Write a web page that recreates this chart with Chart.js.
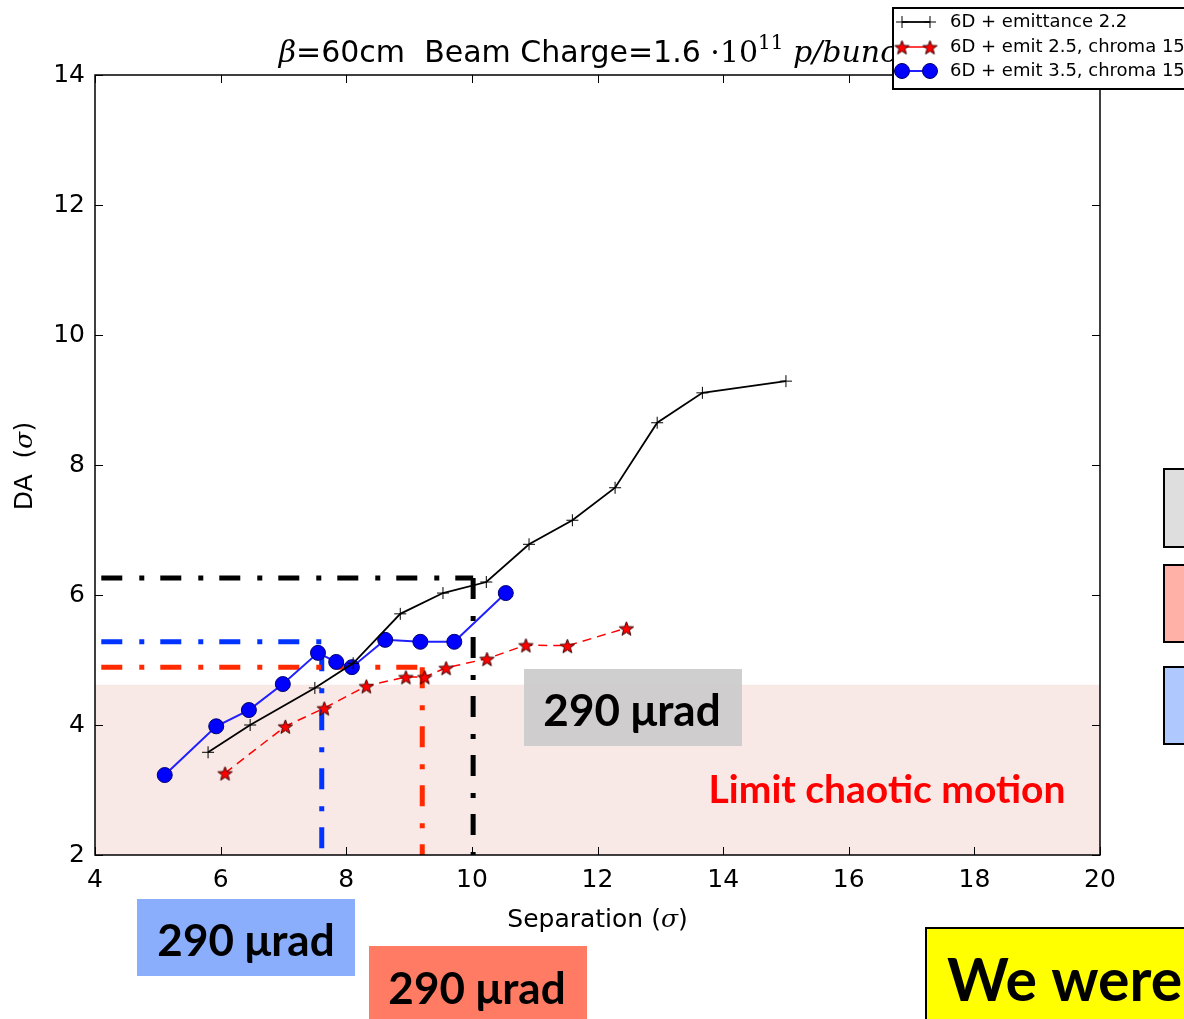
<!DOCTYPE html>
<html>
<head>
<meta charset="utf-8">
<script src="https://cdn.jsdelivr.net/npm/chart.js@4.4.1/dist/chart.umd.min.js"></script>
<style>
  html, body { margin: 0; padding: 0; background: #fff; overflow: hidden; }
</style>
</head>
<body>
<canvas id="da" width="1184" height="1019"></canvas>
<script>
// scan results: DA vs beam separation, one run per emittance/chroma setting
const sepEmit22 = [5.80, 6.47, 7.50, 8.11, 8.86, 9.54, 10.23, 10.91, 11.60, 12.28, 12.95, 13.67, 15.00];
const daEmit22  = [3.58, 4.00, 4.57, 4.95, 5.71, 6.03, 6.20, 6.78, 7.15, 7.65, 8.65, 9.11, 9.29];

const sepEmit25 = [6.07, 7.03, 7.65, 8.32, 8.95, 9.25, 9.59, 10.24, 10.86, 11.52, 12.46];
const daEmit25  = [3.26, 3.98, 4.26, 4.60, 4.74, 4.74, 4.88, 5.02, 5.23, 5.22, 5.49];

const sepEmit35 = [5.11, 5.93, 6.45, 6.99, 7.55, 7.84, 8.09, 8.62, 9.18, 9.72, 10.54];
const daEmit35  = [3.23, 3.98, 4.23, 4.63, 5.11, 4.97, 4.89, 5.31, 5.28, 5.28, 6.03];

const seriesLabels = ["6D + emittance 2.2", "6D + emit 2.5, chroma 15", "6D + emit 3.5, chroma 15"];

// working points picked for each case (black, red, blue)
const guideStart = 4.1;
const guideSep = [10.02, 9.21, 7.61];
const guideDA  = [6.26, 4.89, 5.28];
const guideDrop = [6.26, 4.89, 5.15];

// DA below this is dominated by chaotic motion
const chaoticLimit = 4.62;

const xTicks = [4, 6, 8, 10, 12, 14, 16, 18, 20];
const yTicks = [2, 4, 6, 8, 10, 12, 14];

const toXY = (xs, ys) => xs.map((x, i) => ({ x, y: ys[i] }));

// filled star marker, the built-in "star" is only an outline
function makeStar(r) {
  const c = document.createElement("canvas");
  const s = Math.ceil(r * 2 + 4);
  c.width = s; c.height = s;
  const g = c.getContext("2d");
  g.beginPath();
  for (let i = 0; i < 10; i++) {
    const rr = i % 2 === 0 ? r : r * 0.42;
    const a = -Math.PI / 2 + i * Math.PI / 5;
    g.lineTo(s / 2 + rr * Math.cos(a), s / 2 + 1 + rr * Math.sin(a));
  }
  g.closePath();
  g.fillStyle = "#ff0000";
  g.fill();
  g.lineWidth = 1;
  g.strokeStyle = "#3a0000";
  g.stroke();
  return c;
}
const starImg = makeStar(7.5);

const guideColors = ["#000000", "#ff2a00", "#0033ff"];
const guideSets = [];
guideSep.forEach((s, i) => {
  const style = {
    borderColor: guideColors[i],
    borderWidth: 5,
    borderDash: [21, 17, 5, 16],
    pointRadius: 0,
    fill: false,
    order: 2
  };
  guideSets.push({ ...style, data: [{ x: guideStart, y: guideDA[i] }, { x: s, y: guideDA[i] }] });
  guideSets.push({ ...style, data: [{ x: s, y: guideDrop[i] }, { x: s, y: 2 }] });
});

// draws text made of several runs with different fonts
function drawRuns(ctx, parts, x, y, align) {
  let total = 0;
  parts.forEach(p => { ctx.font = p.f; p.w = ctx.measureText(p.t).width; total += p.w; });
  let cx = align === "center" ? x - total / 2 : x;
  ctx.textAlign = "left";
  parts.forEach(p => {
    ctx.font = p.f;
    ctx.fillText(p.t, cx, y + (p.dy || 0));
    cx += p.w;
  });
}

function box(ctx, x, y, w, h, fill, stroke) {
  ctx.fillStyle = fill;
  ctx.fillRect(x, y, w, h);
  if (stroke) {
    ctx.lineWidth = 2;
    ctx.strokeStyle = stroke;
    ctx.strokeRect(x, y, w, h);
  }
}

const frame = {
  id: "frame",
  afterDraw(chart) {
    const { ctx, chartArea: a, scales } = chart;
    const xs = scales.x, ys = scales.y;
    ctx.save();

    // box around the plot and inward ticks on every side
    ctx.strokeStyle = "#000";
    ctx.lineWidth = 1.5;
    ctx.strokeRect(a.left, a.top, a.right - a.left, a.bottom - a.top);
    ctx.lineWidth = 1;
    ctx.beginPath();
    xTicks.forEach(v => {
      const px = Math.round(xs.getPixelForValue(v)) + 0.5;
      ctx.moveTo(px, a.bottom); ctx.lineTo(px, a.bottom - 8);
      ctx.moveTo(px, a.top); ctx.lineTo(px, a.top + 8);
    });
    yTicks.forEach(v => {
      const py = Math.round(ys.getPixelForValue(v)) + 0.5;
      ctx.moveTo(a.left, py); ctx.lineTo(a.left + 8, py);
      ctx.moveTo(a.right, py); ctx.lineTo(a.right - 8, py);
    });
    ctx.stroke();

    // axis titles
    ctx.fillStyle = "#000";
    ctx.textBaseline = "middle";
    drawRuns(ctx, [
      { t: "Separation (", f: "25px 'DejaVu Sans'" },
      { t: "σ", f: "italic 25px 'DejaVu Serif'" },
      { t: ")", f: "25px 'DejaVu Sans'" }
    ], (a.left + a.right) / 2, 920, "center");
    ctx.save();
    ctx.translate(25, 466);
    ctx.rotate(-Math.PI / 2);
    drawRuns(ctx, [
      { t: "DA  (", f: "25px 'DejaVu Sans'" },
      { t: "σ", f: "italic 25px 'DejaVu Serif'" },
      { t: ")", f: "25px 'DejaVu Sans'" }
    ], 0, 0, "center");
    ctx.restore();

    // title
    ctx.textBaseline = "alphabetic";
    drawRuns(ctx, [
      { t: "β", f: "italic 30px 'DejaVu Serif'" },
      { t: "=60cm  Beam Charge=1.6 ", f: "30px 'DejaVu Sans'" },
      { t: "·10", f: "30px 'DejaVu Serif'" },
      { t: "11", f: "20px 'DejaVu Serif'", dy: -13 },
      { t: " p/bunch", f: "italic 30px 'DejaVu Serif'" }
    ], (a.left + a.right) / 2, 62, "center");

    // slide call-outs
    ctx.textBaseline = "middle";
    box(ctx, 524, 669, 218, 77, "rgba(202,202,202,0.9)");
    box(ctx, 137, 899, 218, 77, "rgb(138,174,252)");
    box(ctx, 369, 946, 218, 80, "rgb(255,123,99)");
    ctx.fillStyle = "#000";
    const mu = [{ t: "290 μrad", f: "bold 44px Lato" }];
    drawRuns(ctx, mu, 632, 712, "center");
    drawRuns(ctx, mu, 246, 942, "center");
    drawRuns(ctx, mu, 477, 990, "center");

    ctx.fillStyle = "#ff0000";
    drawRuns(ctx, [{ t: "Limit chaotic motion", f: "bold 39px Lato" }], 887, 790, "center");

    box(ctx, 1164, 469, 40, 78, "#dedede", "#000");
    box(ctx, 1164, 565, 40, 77, "#ffb0a7", "#000");
    box(ctx, 1164, 667, 40, 77, "#afc8fd", "#000");

    box(ctx, 926, 928, 280, 110, "#ffff00", "#000");
    ctx.fillStyle = "#000";
    ctx.textBaseline = "alphabetic";
    drawRuns(ctx, [{ t: "We were", f: "bold 59px Lato" }], 947, 1001, "left");

    // legend
    box(ctx, 893, 8, 320, 81, "#fff", "#000");
    const rows = [22, 47, 71];
    const sets = chart.data.datasets;
    rows.forEach((ry, i) => {
      const d = sets[i];
      ctx.strokeStyle = d.borderColor;
      ctx.lineWidth = d.borderWidth;
      ctx.setLineDash([]);
      ctx.beginPath(); ctx.moveTo(902, ry); ctx.lineTo(930, ry); ctx.stroke();
      [902, 930].forEach(mx => {
        if (i === 0) {
          ctx.lineWidth = 1;
          ctx.beginPath();
          ctx.moveTo(mx - 6, ry); ctx.lineTo(mx + 6, ry);
          ctx.moveTo(mx, ry - 6); ctx.lineTo(mx, ry + 6);
          ctx.stroke();
        } else if (i === 1) {
          ctx.drawImage(starImg, mx - starImg.width / 2, ry - starImg.height / 2);
        } else {
          ctx.beginPath();
          ctx.arc(mx, ry, 7.5, 0, Math.PI * 2);
          ctx.fillStyle = "#0000ff"; ctx.fill();
          ctx.lineWidth = 1; ctx.strokeStyle = "#00006a"; ctx.stroke();
        }
      });
      ctx.fillStyle = "#000";
      ctx.textBaseline = "middle";
      drawRuns(ctx, [{ t: seriesLabels[i], f: "18px 'DejaVu Sans'" }], 950, ry, "left");
    });
    ctx.restore();
  }
};

new Chart(document.getElementById("da"), {
  type: "line",
  data: {
    datasets: [
      {
        label: seriesLabels[0],
        data: toXY(sepEmit22, daEmit22),
        borderColor: "#000000",
        borderWidth: 1.8,
        pointStyle: "cross",
        pointRadius: 6,
        pointBorderWidth: 1,
        pointBorderColor: "#000",
        fill: false,
        order: 0
      },
      {
        label: seriesLabels[1],
        data: toXY(sepEmit25, daEmit25),
        borderColor: "#ff0000",
        borderWidth: 1.5,
        borderDash: [9, 6],
        pointStyle: starImg,
        fill: false,
        order: 0
      },
      {
        label: seriesLabels[2],
        data: toXY(sepEmit35, daEmit35),
        borderColor: "#1f1fff",
        borderWidth: 2,
        pointRadius: 7.5,
        pointBackgroundColor: "#0000ff",
        pointBorderColor: "#00006a",
        pointBorderWidth: 1,
        fill: false,
        order: 0
      },
      ...guideSets,
      {
        data: [{ x: 4, y: chaoticLimit }, { x: 20, y: chaoticLimit }],
        borderWidth: 0,
        pointRadius: 0,
        backgroundColor: "rgb(248,232,230)",
        fill: "start",
        order: 3
      }
    ]
  },
  options: {
    responsive: false,
    animation: false,
    devicePixelRatio: 1,
    layout: { padding: { top: 75, right: 84, left: 0, bottom: 0 } },
    plugins: { legend: { display: false }, tooltip: { enabled: false } },
    scales: {
      x: {
        type: "linear", min: 4, max: 20,
        afterFit: s => { s.height = 164; },
        afterBuildTicks: s => { s.ticks = xTicks.map(v => ({ value: v })); },
        grid: { display: false, drawTicks: false },
        border: { display: false },
        ticks: { color: "#000", padding: 10, font: { family: "DejaVu Sans", size: 25 } }
      },
      y: {
        type: "linear", min: 2, max: 14,
        afterFit: s => { s.width = 95; },
        afterBuildTicks: s => { s.ticks = yTicks.map(v => ({ value: v })); },
        grid: { display: false, drawTicks: false },
        border: { display: false },
        ticks: { color: "#000", padding: 10, font: { family: "DejaVu Sans", size: 25 } }
      }
    }
  },
  plugins: [frame]
});
</script>
</body>
</html>
